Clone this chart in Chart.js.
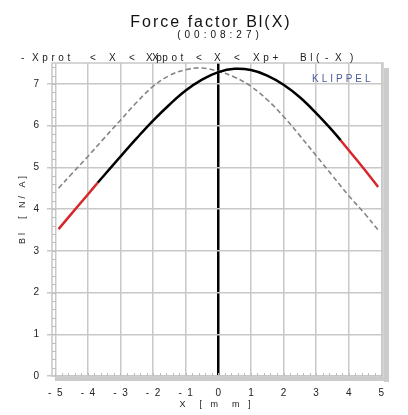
<!DOCTYPE html>
<html>
<head>
<meta charset="utf-8">
<script src="https://cdn.jsdelivr.net/npm/chart.js@4.4.1/dist/chart.umd.min.js"></script>
<style>
  html, body { margin: 0; padding: 0; background: #fff; }
  #wrap { width: 408px; height: 415px; }
</style>
</head>
<body>
<div id="wrap"><canvas id="blchart" width="408" height="415"></canvas></div>
<script>
// Bl(X) measured curve, x in mm
const blX = [-4.9, -4.5, -4.0, -3.7, -3.5, -3.0, -2.5, -2.0, -1.5, -1.0, -0.5, 0, 0.5, 1.0, 1.5, 2.0, 2.5, 3.0, 3.5, 3.75, 4.0, 4.5, 4.9];
const blY = [3.52, 3.89, 4.35, 4.63, 4.81, 5.26, 5.70, 6.12, 6.50, 6.84, 7.10, 7.28, 7.36, 7.33, 7.20, 6.98, 6.68, 6.30, 5.88, 5.65, 5.41, 4.93, 4.53];

// mirrored curve Bl(-X), dashed
const mirX = [-4.9, -4.5, -4.0, -3.5, -3.0, -2.5, -2.0, -1.5, -1.0, -0.5, 0, 0.5, 1.0, 1.5, 2.0, 2.5, 3.0, 3.5, 4.0, 4.5, 4.9];
const mirY = [4.5, 4.84, 5.26, 5.7, 6.13, 6.56, 6.94, 7.2, 7.34, 7.38, 7.3, 7.16, 6.94, 6.62, 6.22, 5.76, 5.28, 4.8, 4.32, 3.88, 3.5];

// protection limits (outside -> red)
const xprotLow = -3.7;
const xprotHigh = 3.75;

// rest position (x = 0), drawn as the black grid line
const restPos = 0;

const xTicks = [-5, -4, -3, -2, -1, 0, 1, 2, 3, 4, 5];
const yTicks = [0, 1, 2, 3, 4, 5, 6, 7];

// header line above the plot: [text, x]
const headTokens = [
    ['-', 21], ['Xprot', 32], ['<', 90], ['X', 109], ['<', 129], ['Xp', 146],
    ['Xpot', 152], ['<', 196], ['X', 214], ['<', 234], ['Xp+', 253],
    ['Bl', 300], ['(', 316], ['-', 325], ['X', 335], [')', 350]
];

const toPts = (xs, ys) => xs.map((x, i) => ({ x: x, y: ys[i] }));
const blPts = toPts(blX, blY);
const redLeft = blPts.filter(p => p.x <= xprotLow);
const blackMid = blPts.filter(p => p.x >= xprotLow && p.x <= xprotHigh);
const redRight = blPts.filter(p => p.x >= xprotHigh);

const gridGray = '#c8c8c8';
const FONT = '"Liberation Sans", Arial, sans-serif';

function spaced(ctx, txt, x, y, size, spacing, color, align) {
    ctx.save();
    ctx.font = size + 'px ' + FONT;
    ctx.letterSpacing = spacing + 'px';
    ctx.fillStyle = color;
    ctx.textAlign = 'left';
    ctx.textBaseline = 'alphabetic';
    let w = ctx.measureText(txt).width - spacing;
    if (align === 'center') x -= w / 2;
    ctx.fillText(txt, x, y);
    ctx.letterSpacing = '0px';
    ctx.restore();
}

const decor = {
    id: 'decor',
    beforeDatasetsDraw(chart) {
        const ctx = chart.ctx;
        const a = chart.chartArea;
        const xs = chart.scales.x, ys = chart.scales.y;
        ctx.save();
        // drop shadow right + bottom
        ctx.fillStyle = '#cccccc';
        ctx.fillRect(a.right + 1, a.top + 5, 5, a.bottom - a.top + 1);
        ctx.fillRect(a.left + 4, a.bottom + 1, a.right - a.left + 2, 4);
        // frame
        ctx.strokeStyle = gridGray;
        ctx.lineWidth = 1.5;
        ctx.beginPath();
        ctx.rect(a.left, a.top, a.right - a.left, a.bottom - a.top);
        ctx.stroke();
        // minor ticks
        ctx.strokeStyle = '#bdbdbd';
        ctx.lineWidth = 1;
        ctx.beginPath();
        for (let v = 0.2; v < 7.5; v += 0.2) {
            const py = Math.round(ys.getPixelForValue(v)) + 0.5;
            ctx.moveTo(a.left, py);
            ctx.lineTo(a.left + 4, py);
        }
        for (let v = -5; v <= 5.001; v += 0.2) {
            const px = Math.round(xs.getPixelForValue(v)) + 0.5;
            ctx.moveTo(px, a.bottom);
            ctx.lineTo(px, a.bottom - 3);
        }
        ctx.stroke();
        ctx.beginPath();
        ctx.restore();
    },
    afterDraw(chart) {
        const ctx = chart.ctx;
        spaced(ctx, 'Force factor Bl(X)', 210, 27, 16, 2, '#111', 'center');
        spaced(ctx, '(00:08:27)', 218, 38, 10, 4, '#111', 'center');
        headTokens.forEach(t => spaced(ctx, t[0], t[1], 61, 10, 3.6, '#222'));
        spaced(ctx, 'KLIPPEL', 312, 82, 10, 3, '#4a5a9c');
        spaced(ctx, 'X  [ m  m ]', 215, 407, 9, 3, '#222', 'center');
        ctx.save();
        ctx.translate(25, 210);
        ctx.rotate(-Math.PI / 2);
        spaced(ctx, 'Bl  [ N/ A]', 0, 0, 9, 3, '#222', 'center');
        ctx.restore();
    }
};

const curve = (pts, color) => ({
    data: pts,
    showLine: true,
    borderColor: color,
    borderWidth: 2.5,
    pointRadius: 0,
    tension: 0.4
});

new Chart(document.getElementById('blchart'), {
    type: 'scatter',
    data: {
        datasets: [
            curve(redLeft, '#d8262b'),
            curve(blackMid, '#000'),
            curve(redRight, '#d8262b'),
            {
                data: toPts(mirX, mirY),
                showLine: true,
                borderColor: '#858585',
                borderWidth: 1.6,
                borderDash: [5, 3],
                pointRadius: 0,
                tension: 0.4
            }
        ]
    },
    options: {
        responsive: false,
        animation: false,
        layout: { padding: { top: 63, right: 25, left: 0, bottom: 0 } },
        plugins: { legend: { display: false }, tooltip: { enabled: false } },
        scales: {
            x: {
                type: 'linear',
                min: -5.1,
                max: 5.05,
                afterBuildTicks: s => { s.ticks = xTicks.map(v => ({ value: v })); },
                afterFit: s => { s.height = 39; },
                grid: {
                    color: c => c.tick && c.tick.value === restPos ? '#000' : gridGray,
                    lineWidth: c => c.tick && c.tick.value === restPos ? 2.5 : 1.5,
                    tickLength: 5,
                    tickColor: gridGray
                },
                border: { display: false },
                ticks: {
                    color: '#222',
                    padding: 6,
                    font: { family: FONT, size: 10 },
                    callback: v => v < 0 ? '-  ' + (-v) : String(v)
                }
            },
            y: {
                min: 0,
                max: 7.5,
                afterBuildTicks: s => { s.ticks = yTicks.map(v => ({ value: v })); },
                afterFit: s => { s.width = 52; },
                grid: { color: gridGray, lineWidth: 1.5, tickLength: 5, tickColor: gridGray },
                border: { display: false },
                ticks: {
                    color: '#222',
                    padding: 8,
                    font: { family: FONT, size: 10 }
                }
            }
        }
    },
    plugins: [decor]
});
</script>
</body>
</html>
